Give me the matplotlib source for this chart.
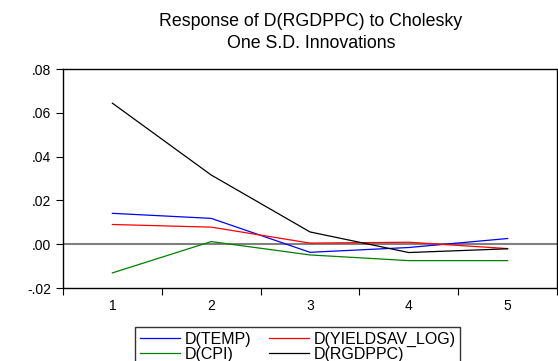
import numpy as np
import matplotlib
matplotlib.use("Agg")
from matplotlib import pyplot as plt

plt.rcParams['font.family'] = ['Liberation Sans', 'DejaVu Sans']

periods = [1, 2, 3, 4, 5]
temp = [0.0141, 0.0118, -0.0037, -0.0015, 0.0026]
yieldsav = [0.0090, 0.0078, 0.0005, 0.0009, -0.0020]
cpi = [-0.0131, 0.0012, -0.0049, -0.0075, -0.0075]
rgdppc = [0.0644, 0.0316, 0.0056, -0.0038, -0.0021]
ytick_vals = [-0.02, 0.0, 0.02, 0.04, 0.06, 0.08]
ytick_labels = ['-.02', '.00', '.02', '.04', '.06', '.08']

fig = plt.figure(figsize=(5.58, 3.61), dpi=100)
ax = fig.add_axes([0.1129, 0.2022, 0.8853, 0.6066])

ax.axhline(0, color='#808080', lw=1.5, zorder=1)
l_temp, = ax.plot(periods, temp, color='#0000ff', lw=0.9)
l_yield, = ax.plot(periods, yieldsav, color='#ff0000', lw=0.9)
l_cpi, = ax.plot(periods, cpi, color='#008000', lw=0.9)
l_rgdp, = ax.plot(periods, rgdppc, color='#000000', lw=0.9)

ax.set_xlim(0.5, 5.5)
ax.set_ylim(-0.02, 0.08)
ax.set_xticks(np.arange(0.5, 6.0, 1.0))
ax.set_xticklabels([])
ax.set_xticks(periods, minor=True)
ax.set_xticklabels([str(p) for p in periods], minor=True, fontsize=10)
ax.tick_params(axis='x', which='minor', length=0, pad=8)
ax.tick_params(axis='x', which='major', length=5, direction='out')
ax.set_yticks(ytick_vals)
ax.set_yticklabels(ytick_labels, fontsize=10)
ax.tick_params(axis='y', length=5, direction='out')
for s in ax.spines.values():
    s.set_linewidth(1.0)

fig.text(0.557, 0.91, 'Response of D(RGDPPC) to Cholesky\nOne S.D. Innovations',
         ha='center', va='center', fontsize=12.8, linespacing=1.4)

fig.legend([l_temp, l_cpi, l_yield, l_rgdp],
           ['D(TEMP)', 'D(CPI)', 'D(YIELDSAV_LOG)', 'D(RGDPPC)'],
           ncol=2, loc='upper left', bbox_to_anchor=(0.242, 0.094),
           fontsize=11.5, frameon=True, fancybox=False, edgecolor='black',
           handlelength=2.5, labelspacing=0.0, columnspacing=1.1,
           borderpad=0.3, handletextpad=0.3, borderaxespad=0)

fig.savefig('out.png', dpi=100)
